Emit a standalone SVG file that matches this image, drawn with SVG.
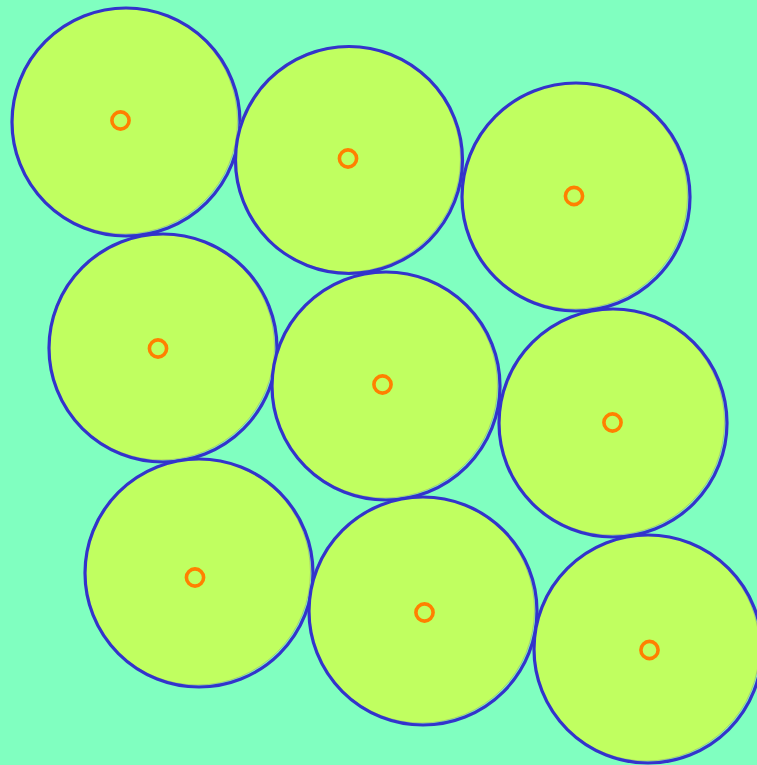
<svg xmlns="http://www.w3.org/2000/svg" width="757" height="765" viewBox="0 0 757 765">
<style>
.fill{fill:#c0ff60;stroke:#a0906a;stroke-width:0.8;stroke-opacity:0.6}
.ring{fill:none;stroke:#3333cc;stroke-width:3.2}
.dot{fill:none;stroke:#ff8000;stroke-width:3.6}
</style>
<rect width="757" height="765" fill="#80ffc0"/>
<g id="n1"><circle class="fill" cx="124.5" cy="121" r="113"/><circle class="ring" cx="126" cy="122" r="114"/><circle class="dot" cx="120.5" cy="120.5" r="8.6"/></g>
<g id="n2"><circle class="fill" cx="347.5" cy="159" r="113"/><circle class="ring" cx="349" cy="160" r="113.5"/><circle class="dot" cx="348" cy="158.5" r="8.6"/></g>
<g id="n3"><circle class="fill" cx="574.5" cy="196" r="113"/><circle class="ring" cx="576" cy="197" r="114"/><circle class="dot" cx="574" cy="196" r="8.6"/></g>
<g id="n4"><circle class="fill" cx="161.5" cy="347" r="113"/><circle class="ring" cx="163" cy="348" r="114"/><circle class="dot" cx="158" cy="348.5" r="8.6"/></g>
<g id="n5"><circle class="fill" cx="384.5" cy="385" r="113"/><circle class="ring" cx="386" cy="386" r="114"/><circle class="dot" cx="382.5" cy="384.5" r="8.6"/></g>
<g id="n6"><circle class="fill" cx="611.5" cy="422" r="113"/><circle class="ring" cx="613" cy="423" r="114"/><circle class="dot" cx="612.5" cy="422.5" r="8.6"/></g>
<g id="n7"><circle class="fill" cx="197.5" cy="572" r="113"/><circle class="ring" cx="199" cy="573" r="114"/><circle class="dot" cx="195" cy="577.5" r="8.6"/></g>
<g id="n8"><circle class="fill" cx="421.5" cy="610" r="113"/><circle class="ring" cx="423" cy="611" r="114"/><circle class="dot" cx="424.5" cy="612.5" r="8.6"/></g>
<g id="n9"><circle class="fill" cx="646.5" cy="648" r="113"/><circle class="ring" cx="648" cy="649" r="114"/><circle class="dot" cx="649.5" cy="650" r="8.6"/></g>
<g id="connectors"/>
</svg>
